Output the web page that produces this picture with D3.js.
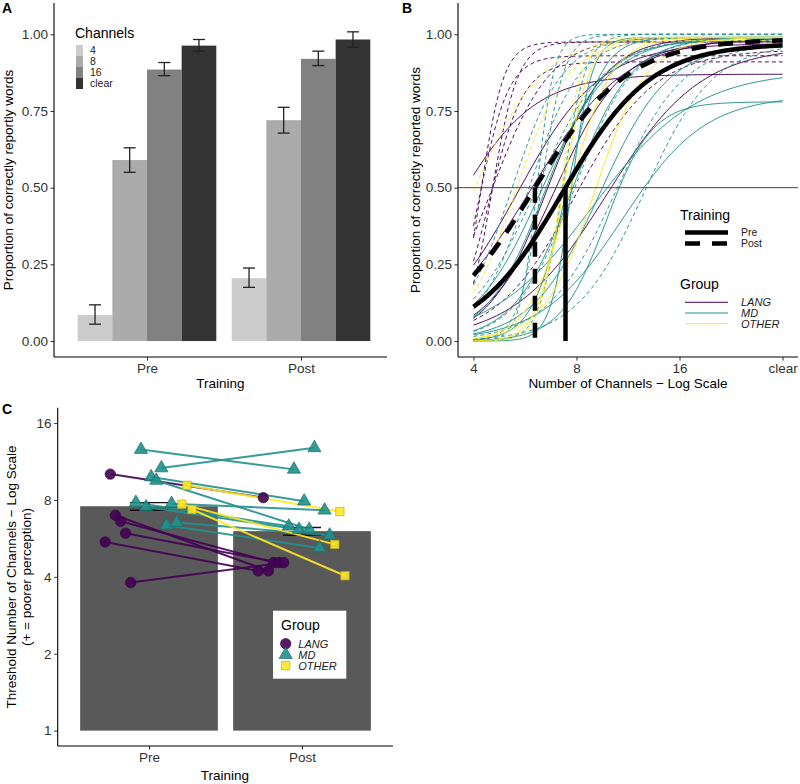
<!DOCTYPE html>
<html><head><meta charset="utf-8">
<script src="https://cdn.jsdelivr.net/npm/d3@7"></script>
<style>body{margin:0;background:#fff} svg text{font-family:"Liberation Sans",Arial,Helvetica,sans-serif}</style>
</head><body><svg id="chart" width="800" height="784"></svg>
<script>
// ---------------- DATA ----------------
const training = ["Pre", "Post"];
const channels = ["4", "8", "16", "clear"];
// Panel A: proportion of correctly reported words (mean, error bar low/high)
const preMean  = [0.085, 0.590, 0.885, 0.963];
const preLow   = [0.055, 0.550, 0.865, 0.945];
const preHigh  = [0.118, 0.630, 0.908, 0.983];
const postMean = [0.205, 0.720, 0.920, 0.983];
const postLow  = [0.175, 0.678, 0.898, 0.958];
const postHigh = [0.238, 0.762, 0.945, 1.008];
const yTicksA = [0, 0.25, 0.5, 0.75, 1];

// Panel B: channel ticks (clear plotted as 32)
const channelTicks = [4, 8, 16, 32];
const channelTickLabels = ["4", "8", "16", "clear"];
// group-level fitted curves (Pre, Post)
const meanThreshold = [7.43, 6.05];
const meanSlope = [2.35, 2.2];
const meanUpper = [0.97, 0.985];

// Participants (ordered as dodged in panel C)
const participants = ["L1","L2","L3","L4","L5","L6","M1","M2","M3","M4","M5","M6","M7","M8","M9","O1","O2","O3"];
const groups = ["LANG","LANG","LANG","LANG","LANG","LANG","MD","MD","MD","MD","MD","MD","MD","MD","MD","OTHER","OTHER","OTHER"];
const preThreshold  = [5.48, 10.1, 6.97, 6.60, 5.93, 3.80, 7.81, 12.6, 7.51, 9.84, 9.53, 10.67, 6.37, 7.74, 6.53, 7.70, 9.13, 7.34];
const postThreshold = [4.22, 8.17, 4.22, 4.55, 4.55, 4.55, 6.31, 10.54, 6.13, 7.91, 6.13, 12.8, 5.19, 7.29, 5.82, 5.36, 7.21, 4.04];
const preSlope  = [2.5, 2.2, 3.0, 3.5, 2.2, 2.6, 3.5, 2.5, 6.0, 2.0, 3.0, 4.5, 3.0, 10, 3.5, 5.0, 4.0, 8.0];
const postSlope = [7.0, 2.6, 9.0, 6.0, 8.0, 3.5, 9.0, 3.0, 3.0, 3.5, 12, 3.0, 4.0, 9.0, 4.0, 4.0, 10, 3.0];
const preUpper  = [0.97, 0.96, 0.98, 0.99, 0.99, 0.87, 0.99, 0.80, 0.99, 0.88, 0.97, 0.78, 0.99, 0.99, 0.98, 0.99, 0.99, 0.99];
const postUpper = [0.93, 0.95, 0.975, 0.91, 0.975, 0.99, 1.0, 0.97, 0.99, 0.99, 1.0, 0.97, 0.99, 1.0, 0.99, 0.98, 0.99, 0.99];

// Panel C: mean threshold bars with error bars
const barThreshold = [7.56, 6.04];
const barLow  = [7.29, 5.82];
const barHigh = [7.81, 6.24];
const yTicksC = [1, 2, 4, 8, 16];
const groupNames = ["LANG", "MD", "OTHER"];
const groupColors = ["#440154", "#21908C", "#FDE725"];

// ---------------- DRAW ----------------
const svg = d3.select("#chart");
const TXT = "#333";
function styleAxis(g) {
  g.select(".domain").remove();
  g.selectAll(".tick line").attr("stroke", "#333").attr("stroke-width", 1);
  g.selectAll(".tick text").attr("fill", TXT).style("font-size", "13.5px");
}
function hline(g, x1, x2, y) { g.append("line").attr("x1", x1).attr("x2", x2).attr("y1", y).attr("y2", y).attr("stroke", "#000").attr("stroke-width", 1.1); }
function vline(g, x, y1, y2) { g.append("line").attr("x1", x).attr("x2", x).attr("y1", y1).attr("y2", y2).attr("stroke", "#000").attr("stroke-width", 1.1); }
function label(g, txt, x, y, opts = {}) {
  const t = g.append("text").attr("x", x).attr("y", y).text(txt)
    .style("font-size", (opts.size || 13.5) + "px").attr("fill", opts.fill || "#000");
  if (opts.anchor) t.attr("text-anchor", opts.anchor);
  if (opts.weight) t.style("font-weight", opts.weight);
  if (opts.italic) t.style("font-style", "italic");
  if (opts.rotate) t.attr("transform", `rotate(-90,${x},${y})`);
  return t;
}
const colorG = d3.scaleOrdinal().domain(groupNames).range(groupColors);
const LEG = 10.5;
const KEY = 11;

// ===== Panel A =====
const A = svg.append("g");
const xA = d3.scalePoint().domain(training).range([147, 301]);
const yA = d3.scaleLinear().domain([-0.052, 1.102]).range([357, 3]);
const subA = d3.scaleBand().domain(channels).range([-69.3, 69.3]);
const fillA = d3.scaleOrdinal().domain(channels).range(["#CCCCCC", "#ABABAB", "#818181", "#333333"]);
const barsA = [];
training.forEach((t, ti) => channels.forEach((c, ci) => barsA.push({
  t, c,
  mean: ti ? postMean[ci] : preMean[ci],
  lo: ti ? postLow[ci] : preLow[ci],
  hi: ti ? postHigh[ci] : preHigh[ci]
})));
A.selectAll("rect.bar").data(barsA).join("rect")
  .attr("x", d => xA(d.t) + subA(d.c)).attr("width", subA.bandwidth())
  .attr("y", d => yA(d.mean)).attr("height", d => yA(0) - yA(d.mean))
  .attr("fill", d => fillA(d.c));
const ebA = A.selectAll("g.eb").data(barsA).join("g")
  .attr("transform", d => `translate(${xA(d.t) + subA(d.c) + subA.bandwidth() / 2},0)`);
ebA.append("line").attr("y1", d => yA(d.lo)).attr("y2", d => yA(d.hi)).attr("stroke", "#222").attr("stroke-width", 1.3);
ebA.append("line").attr("x1", -6).attr("x2", 6).attr("y1", d => yA(d.lo)).attr("y2", d => yA(d.lo)).attr("stroke", "#222").attr("stroke-width", 1.3);
ebA.append("line").attr("x1", -6).attr("x2", 6).attr("y1", d => yA(d.hi)).attr("y2", d => yA(d.hi)).attr("stroke", "#222").attr("stroke-width", 1.3);
A.append("g").attr("transform", "translate(54,0)")
  .call(d3.axisLeft(yA).tickValues(yTicksA).tickFormat(d3.format(".2f")).tickSize(3.6).tickPadding(2.5)).call(styleAxis);
A.append("g").attr("transform", "translate(0,357)")
  .call(d3.axisBottom(xA).tickSize(3.6).tickPadding(3)).call(styleAxis);
vline(A, 54, 3, 357); hline(A, 54, 387, 357);
label(A, "Proportion of correctly reportly words", 13, 180, { anchor: "middle", rotate: true });
label(A, "Training", 220.5, 388, { anchor: "middle" });
label(A, "A", 2, 13, { size: 14, weight: "bold" });
// legend A
label(A, "Channels", 75, 37.5, { size: 14 });
channels.forEach((c, i) => {
  A.append("rect").attr("x", 76).attr("y", 45 + i * KEY).attr("width", 7).attr("height", KEY).attr("fill", fillA(c));
  label(A, c, 90, 54.2 + i * KEY, { size: LEG, fill: "#222" });
});

// ===== Panel B =====
const B = svg.append("g");
const xB = d3.scaleLog().base(2).domain([2 ** 1.85, 2 ** 5.15]).range([458, 798]);
const yB = d3.scaleLinear().domain([-0.052, 1.102]).range([357, 3]);
const sampleL2 = d3.range(2, 5.0001, 0.025);
function curvePts(thr, k, a) {
  const p = 0.5 / a;
  const m = Math.log2(thr) - Math.log(p / (1 - p)) / k;
  return sampleL2.map(x2 => ({ c: 2 ** x2, y: a / (1 + Math.exp(-k * (x2 - m))) }));
}
const lineB = d3.line().x(d => xB(d.c)).y(d => yB(d.y)).curve(d3.curveLinear);
const indiv = [];
participants.forEach((p, i) => {
  indiv.push({ g: groups[i], t: "Pre", pts: curvePts(preThreshold[i], preSlope[i], preUpper[i]) });
  indiv.push({ g: groups[i], t: "Post", pts: curvePts(postThreshold[i], postSlope[i], postUpper[i]) });
});
B.selectAll("path.ind").data(indiv).join("path")
  .attr("d", d => lineB(d.pts)).attr("fill", "none")
  .attr("stroke", d => colorG(d.g)).attr("stroke-opacity", 0.95).attr("stroke-width", 1)
  .attr("stroke-dasharray", d => d.t === "Post" ? "4,3" : null);
// reference line at 0.5
B.append("line").attr("x1", 458).attr("x2", 798).attr("y1", yB(0.5)).attr("y2", yB(0.5)).attr("stroke", "#444").attr("stroke-width", 1);
// group-level curves and threshold lines
training.forEach((t, ti) => {
  const dash = ti ? "15,12" : null;
  B.append("path").attr("d", lineB(curvePts(meanThreshold[ti], meanSlope[ti], meanUpper[ti])))
    .attr("fill", "none").attr("stroke", "#000").attr("stroke-width", 4.5).attr("stroke-dasharray", dash);
  B.append("line").attr("x1", xB(meanThreshold[ti])).attr("x2", xB(meanThreshold[ti]))
    .attr("y1", yB(0.5)).attr("y2", yB(0)).attr("stroke", "#000").attr("stroke-width", 4.5).attr("stroke-dasharray", dash);
});
B.append("g").attr("transform", "translate(458,0)")
  .call(d3.axisLeft(yB).tickValues(yTicksA).tickFormat(d3.format(".2f")).tickSize(3.6).tickPadding(2.5)).call(styleAxis);
B.append("g").attr("transform", "translate(0,357)")
  .call(d3.axisBottom(xB).tickValues(channelTicks).tickFormat((d, i) => channelTickLabels[i]).tickSize(3.6).tickPadding(3)).call(styleAxis);
vline(B, 458, 3, 357); hline(B, 458, 798, 357);
label(B, "Proportion of correctly reported words", 420, 180, { anchor: "middle", rotate: true });
label(B, "Number of Channels \u2212 Log Scale", 628, 388, { anchor: "middle" });
label(B, "B", 402, 13, { size: 14, weight: "bold" });
// legend B
label(B, "Training", 680, 220, { size: 14 });
training.forEach((t, i) => {
  B.append("line").attr("x1", 685).attr("x2", 728).attr("y1", 232.5 + i * KEY).attr("y2", 232.5 + i * KEY)
    .attr("stroke", "#000").attr("stroke-width", 4.5).attr("stroke-dasharray", i ? "15,12" : null);
  label(B, t, 741, 236.3 + i * KEY, { size: LEG, fill: "#222" });
});
label(B, "Group", 680, 289, { size: 14 });
groupNames.forEach((g, i) => {
  B.append("line").attr("x1", 685).attr("x2", 728).attr("y1", 302.3 + i * 10.7).attr("y2", 302.3 + i * 10.7)
    .attr("stroke", colorG(g)).attr("stroke-width", 1);
  label(B, g, 741, 306.2 + i * 10.7, { size: LEG + 0.5, italic: true, fill: "#222" });
});

// ===== Panel C =====
const C = svg.append("g");
const xC = d3.scalePoint().domain(training).range([149, 302]);
const yC = d3.scaleLog().base(2).domain([2 ** -0.2, 2 ** 4.2]).range([746, 407.7]);
const dodge = d3.scalePoint().domain(participants).range([-43.8, 43]);
const barW = 137.7;
C.selectAll("rect.bar").data(training).join("rect")
  .attr("x", t => xC(t) - barW / 2).attr("width", barW)
  .attr("y", (t, i) => yC(barThreshold[i])).attr("height", (t, i) => yC(1) - yC(barThreshold[i]))
  .attr("fill", "#595959");
const ebC = C.selectAll("g.eb").data(training).join("g").attr("transform", t => `translate(${xC(t)},0)`);
ebC.append("line").attr("y1", (t, i) => yC(barLow[i])).attr("y2", (t, i) => yC(barHigh[i])).attr("stroke", "#111").attr("stroke-width", 1.4);
ebC.append("line").attr("x1", -19).attr("x2", 19).attr("y1", (t, i) => yC(barLow[i])).attr("y2", (t, i) => yC(barLow[i])).attr("stroke", "#111").attr("stroke-width", 1.4);
ebC.append("line").attr("x1", -19).attr("x2", 19).attr("y1", (t, i) => yC(barHigh[i])).attr("y2", (t, i) => yC(barHigh[i])).attr("stroke", "#111").attr("stroke-width", 1.4);
const pdata = participants.map((p, i) => ({ p, g: groups[i], pre: preThreshold[i], post: postThreshold[i] }));
C.selectAll("line.pl").data(pdata).join("line")
  .attr("x1", d => xC("Pre") + dodge(d.p)).attr("y1", d => yC(d.pre))
  .attr("x2", d => xC("Post") + dodge(d.p)).attr("y2", d => yC(d.post))
  .attr("stroke", d => colorG(d.g)).attr("stroke-width", 2).attr("stroke-opacity", 0.9);
const symType = d3.scaleOrdinal().domain(groupNames).range([d3.symbolCircle, d3.symbolTriangle, d3.symbolSquare]);
const symSize = d3.scaleOrdinal().domain(groupNames).range([85, 75, 70]);
const pts = [];
pdata.forEach(d => { pts.push({ ...d, t: "Pre", v: d.pre }); pts.push({ ...d, t: "Post", v: d.post }); });
function drawSym(sel) {
  sel.attr("d", d => d3.symbol().type(symType(d.g)).size(symSize(d.g))())
    .attr("fill", d => colorG(d.g)).attr("fill-opacity", 0.9)
    .attr("stroke", d => d3.color(colorG(d.g)).darker(0.8)).attr("stroke-width", 0.7);
}
C.selectAll("path.pt").data(pts).join("path")
  .attr("transform", d => `translate(${xC(d.t) + dodge(d.p)},${yC(d.v)})`).call(drawSym);
C.append("g").attr("transform", "translate(57.7,0)")
  .call(d3.axisLeft(yC).tickValues(yTicksC).tickFormat(d3.format("d")).tickSize(3.6).tickPadding(2.5)).call(styleAxis);
C.append("g").attr("transform", "translate(0,746)")
  .call(d3.axisBottom(xC).tickSize(3.6).tickPadding(3)).call(styleAxis);
vline(C, 57.7, 407.7, 746); hline(C, 57.7, 393, 746);
label(C, "Threshold Number of Channels \u2212 Log Scale", 16, 577, { anchor: "middle", rotate: true });
label(C, "(+ = poorer perception)", 31, 577, { anchor: "middle", rotate: true });
label(C, "Training", 225, 780, { anchor: "middle" });
label(C, "C", 2, 414, { size: 14, weight: "bold" });
// legend C
C.append("rect").attr("x", 273).attr("y", 610.7).attr("width", 73.3).attr("height", 68).attr("fill", "#fff");
label(C, "Group", 281, 630, { size: 14 });
groupNames.forEach((g, i) => {
  C.append("path").datum({ g }).attr("transform", `translate(285.7,${643.7 + i * 11})`).call(drawSym);
  label(C, g, 298.3, 647.6 + i * 11, { size: LEG + 0.5, italic: true, fill: "#222" });
});
</script></body></html>
